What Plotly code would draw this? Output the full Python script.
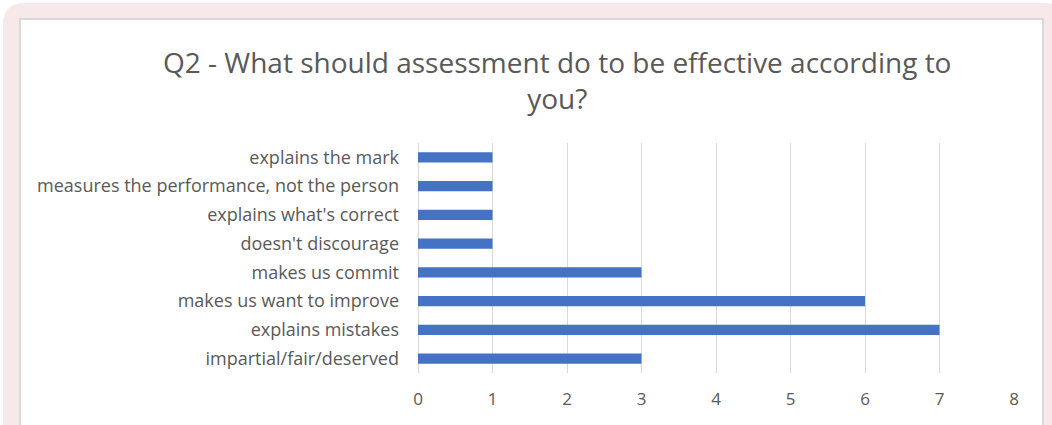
import plotly.graph_objects as go

categories = [
    "explains the mark",
    "measures the performance, not the person",
    "explains what's correct",
    "doesn't discourage",
    "makes us commit",
    "makes us want to improve",
    "explains mistakes",
    "impartial/fair/deserved",
]
values = [1, 1, 1, 1, 3, 6, 7, 3]
x_ticks = [0, 1, 2, 3, 4, 5, 6, 7, 8]
title_text = "Q2 - What should assessment do to be effective according to<br>you?"

W, H = 1052, 425
L, R, T, B = 418, 38, 143, 52
PW, PH = W - L - R, H - T - B


def px(xp):
    return (xp - L) / PW


def py(yp):
    return (H - B - yp) / PH


def rounded_path(x0, y0, x1, y1, r):
    pts = []
    pts.append(f"M {px(x0)},{py(y1)}")
    pts.append(f"L {px(x0)},{py(y0 + r)}")
    pts.append(f"Q {px(x0)},{py(y0)} {px(x0 + r)},{py(y0)}")
    pts.append(f"L {px(x1 - r)},{py(y0)}")
    pts.append(f"Q {px(x1)},{py(y0)} {px(x1)},{py(y0 + r)}")
    pts.append(f"L {px(x1)},{py(y1)} Z")
    return " ".join(pts)


fig = go.Figure()
fig.add_trace(go.Bar(
    x=values,
    y=categories,
    orientation="h",
    marker=dict(color="#4472C4", line=dict(width=0)),
    width=0.36,
))

font_family = "'Open Sans', sans-serif"

fig.update_layout(
    width=W,
    height=H,
    margin=dict(l=L, r=R, t=T, b=B, pad=0),
    paper_bgcolor="white",
    plot_bgcolor="rgba(0,0,0,0)",
    showlegend=False,
    font=dict(family=font_family, color="#595959"),
    shapes=[
        dict(type="path", xref="paper", yref="paper", layer="below",
             path=rounded_path(3, 3, 1066, 440, 22),
             fillcolor="#F7E9E9", line=dict(width=0)),
        dict(type="rect", xref="paper", yref="paper", layer="below",
             x0=px(20), x1=px(1043), y0=py(440), y1=py(19),
             fillcolor="white", line=dict(color="#D9D9D9", width=2)),
    ],
    annotations=[
        dict(text=title_text, xref="paper", yref="paper",
             x=px(557), y=py(41), xanchor="center", yanchor="top",
             showarrow=False, align="center",
             font=dict(size=28, color="#595959", family=font_family)),
    ],
    xaxis=dict(
        range=[0, 8],
        tickvals=x_ticks,
        showgrid=True,
        gridcolor="#D9D9D9",
        gridwidth=1,
        zeroline=True,
        zerolinecolor="#D9D9D9",
        zerolinewidth=1,
        showline=False,
        ticks="",
        ticklabelstandoff=14,
        tickfont=dict(size=17, color="#595959"),
        fixedrange=True,
    ),
    yaxis=dict(
        categoryorder="array",
        categoryarray=categories,
        autorange="reversed",
        showgrid=False,
        zeroline=False,
        showline=False,
        ticks="",
        ticklabelstandoff=18,
        tickfont=dict(size=18, color="#595959"),
        fixedrange=True,
    ),
)

fig.write_html(
    "out.html",
    config={"displayModeBar": False},
    post_script="document.body.style.margin='0';document.body.style.overflow='hidden';",
)
